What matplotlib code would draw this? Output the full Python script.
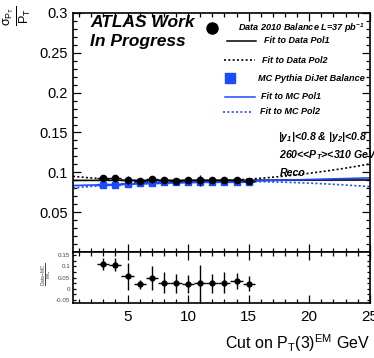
import numpy as np
import matplotlib
matplotlib.use("Agg")
import matplotlib.pyplot as plt
from matplotlib.ticker import MultipleLocator

plt.rcParams['font.family'] = ['Liberation Sans', 'DejaVu Sans']
plt.rcParams['mathtext.fontset'] = 'custom'
plt.rcParams['mathtext.rm'] = 'Liberation Sans'
plt.rcParams['mathtext.it'] = 'Liberation Sans'
plt.rcParams['mathtext.bf'] = 'Liberation Sans:bold:italic'

# cut on PT(3) in GeV, one point per bin
pt3_cut = [3, 4, 5, 6, 7, 8, 9, 10, 11, 12, 13, 14, 15]
data_balance = [0.0932, 0.0934, 0.0898, 0.0887, 0.0911, 0.0900, 0.0896,
                0.0898, 0.0901, 0.0902, 0.0903, 0.0905, 0.0897]
data_err = [0.0023, 0.0024, 0.0050, 0.0018, 0.0045, 0.0039, 0.0038,
            0.0035, 0.0070, 0.0037, 0.0039, 0.0030, 0.0029]
mc_balance = [0.0840, 0.0843, 0.0850, 0.0870, 0.0870, 0.0875, 0.0875,
              0.0880, 0.0880, 0.0880, 0.0878, 0.0875, 0.0878]
mc_err = [0.0008] * 13
ratio = [0.110, 0.108, 0.056, 0.020, 0.047, 0.028, 0.024,
         0.020, 0.024, 0.025, 0.028, 0.034, 0.022]
ratio_err = [0.027, 0.028, 0.060, 0.021, 0.054, 0.045, 0.044,
             0.040, 0.080, 0.042, 0.045, 0.035, 0.033]

# fit coefficients (c0 + c1*x + c2*x^2)
data_pol1 = [0.0899, 0.00002]
data_pol2 = [0.09578, -0.001606, 8.78e-5]
mc_pol1 = [0.0833, 0.00039]
mc_pol2 = [0.07986, 0.001306, -4.88e-5]
data_band = 0.0007
mc_band = 0.0009

main_yticks = [0, 0.05, 0.1, 0.15, 0.2, 0.25, 0.3]
main_ylabels = ['', '0.05', '0.1', '0.15', '0.2', '0.25', '0.3']
ratio_yticks = [-0.05, 0, 0.05, 0.1, 0.15]
ratio_ylabels = ['-0.05', '0', '0.05', '0.1', '0.15']
xticks = [5, 10, 15, 20, 25]

BLUE = '#1a4cff'
DOTS = (0, (1.2, 1.4))

fig = plt.figure(figsize=(3.74, 3.58), dpi=100)
ax = fig.add_axes([0.1952, 0.2961, 0.7935, 0.6676])
rax = fig.add_axes([0.1952, 0.1536, 0.7935, 0.1425])

xfit = np.linspace(0.5, 25, 300)
pv = np.polynomial.polynomial.polyval

# bands around pol1 fits
ax.fill_between(xfit, pv(xfit, data_pol1) - data_band, pv(xfit, data_pol1) + data_band,
                color='#b8b8b8', lw=0, zorder=1)
ax.fill_between(xfit, pv(xfit, mc_pol1) - mc_band, pv(xfit, mc_pol1) + mc_band,
                color='#9fb8ff', lw=0, zorder=1)
ax.plot(xfit, pv(xfit, data_pol1), color='black', lw=1.1, zorder=2)
ax.plot(xfit, pv(xfit, data_pol2), color='black', lw=1.2, ls=DOTS, zorder=2)
ax.plot(xfit, pv(xfit, mc_pol1), color=BLUE, lw=1.1, zorder=2)
ax.plot(xfit, pv(xfit, mc_pol2), color=BLUE, lw=1.2, ls=DOTS, zorder=2)

ax.errorbar(pt3_cut, data_balance, xerr=0.5, yerr=data_err, fmt='o', color='black',
            ms=4.5, lw=1.0, capsize=0, zorder=4)
ax.errorbar(pt3_cut, mc_balance, xerr=0.5, yerr=mc_err, fmt='s', color=BLUE,
            ms=5, lw=1.6, capsize=0, zorder=3)

ax.set_xlim(0.5, 25)
ax.set_ylim(0, 0.3)
ax.set_yticks(main_yticks)
ax.set_yticklabels(main_ylabels, fontsize=10.5)
ax.set_xticks(xticks)
ax.tick_params(axis='x', labelbottom=False)
ax.xaxis.set_minor_locator(MultipleLocator(1))
ax.yaxis.set_minor_locator(MultipleLocator(0.01))

# ratio panel
rax.errorbar(pt3_cut, ratio, xerr=0.5, yerr=ratio_err, fmt='o', color='black',
             ms=3.5, lw=1.0, capsize=0)
rax.set_xlim(0.5, 25)
rax.set_ylim(-0.063, 0.164)
rax.set_yticks(ratio_yticks)
rax.set_yticklabels(ratio_ylabels, fontsize=4.5, color='#444444')
rax.set_xticks(xticks)
rax.set_xticklabels([str(t) for t in xticks], fontsize=11)
rax.xaxis.set_minor_locator(MultipleLocator(1))
rax.yaxis.set_minor_locator(MultipleLocator(0.025))

for a in (ax, rax):
    a.tick_params(which='both', direction='in', top=True, right=True, width=0.9)
    a.tick_params(which='major', length=6)
    a.tick_params(which='minor', length=3)
    for sp in a.spines.values():
        sp.set_linewidth(1.2)
rax.tick_params(axis='x', which='major', pad=5)
rax.tick_params(axis='y', which='both', length=2.5, pad=2)

fig.text(0.989, 0.042, r'Cut on P$_\mathrm{T}$(3)$^\mathrm{EM}$ GeV', ha='right',
         va='center', fontsize=11.5)
fig.text(0.045, 0.955, r'$\frac{\sigma_{P_T}}{P_T}$', rotation=90, ha='center',
         va='center', fontsize=13)
fig.text(0.125, 0.232, r'$\frac{Data\!-\!MC}{MC}$', rotation=90, ha='center',
         va='center', fontsize=5, color='#444444')

bi = dict(fontweight='bold', fontstyle='italic')
ax.text(0.057, 0.962, 'ATLAS Work', transform=ax.transAxes, ha='left', va='center',
        fontsize=12.5, **bi)
ax.text(0.057, 0.879, 'In Progress', transform=ax.transAxes, ha='left', va='center',
        fontsize=12.5, **bi)

# legend, drawn by hand like the ROOT one
tr = ax.transAxes
ax.plot([0.468], [0.937], 'o', color='black', ms=8, transform=tr, clip_on=False)
ax.text(0.983, 0.937, r'Data 2010 Balance L=37 pb$^{\mathbf{-1}}$', transform=tr,
        ha='right', va='center', fontsize=6.6, **bi)
ax.plot([0.519, 0.616], [0.884, 0.884], color='black', lw=1.1, transform=tr)
ax.text(0.643, 0.884, 'Fit to Data Pol1', transform=tr, ha='left', va='center',
        fontsize=6.5, **bi)
ax.plot([0.508, 0.612], [0.803, 0.803], color='black', lw=1.2, ls=DOTS, transform=tr)
ax.text(0.636, 0.803, 'Fit to Data Pol2', transform=tr, ha='left', va='center',
        fontsize=6.5, **bi)
ax.plot([0.529], [0.728], 's', color=BLUE, ms=7.5, transform=tr)
ax.text(0.983, 0.728, 'MC Pythia DiJet Balance', transform=tr, ha='right', va='center',
        fontsize=6.6, **bi)
ax.plot([0.512, 0.613], [0.649, 0.649], color=BLUE, lw=1.1, transform=tr)
ax.text(0.633, 0.649, 'Fit to MC Pol1', transform=tr, ha='left', va='center',
        fontsize=6.5, **bi)
ax.plot([0.505, 0.606], [0.586, 0.586], color=BLUE, lw=1.2, ls=DOTS, transform=tr)
ax.text(0.630, 0.586, 'Fit to MC Pol2', transform=tr, ha='left', va='center',
        fontsize=6.5, **bi)

# selection cuts
ax.text(0.990, 0.481, r'|y$_{\mathbf{1}}$|<0.8 & |y$_{\mathbf{2}}$|<0.8', transform=tr,
        ha='right', va='center', fontsize=7.6, **bi)
ax.text(0.694, 0.406, r'260<<P$_{\mathbf{T}}$><310 GeV', transform=tr, ha='left',
        va='center', fontsize=7.6, clip_on=False, **bi)
ax.text(0.697, 0.331, 'Reco', transform=tr, ha='left', va='center', fontsize=7.6, **bi)

fig.savefig('out.png', dpi=100)
